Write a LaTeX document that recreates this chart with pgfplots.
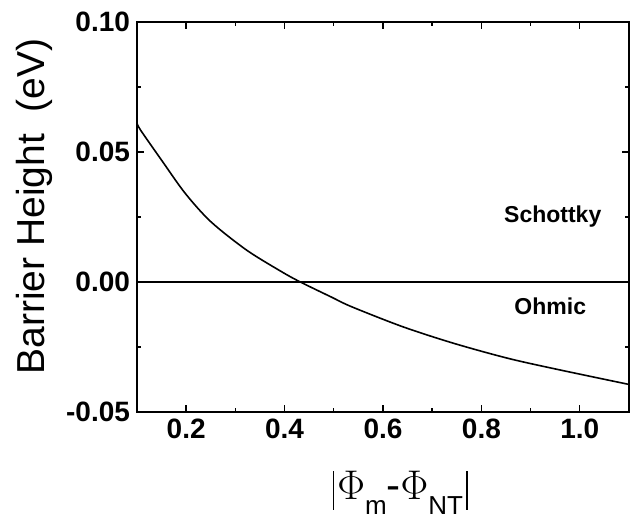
\documentclass[border=0pt]{standalone}
\usepackage{fontspec}
\setmainfont{Liberation Sans}
\usepackage{pgfplots}
\pgfplotsset{compat=1.18}

\newcommand{\absbar}{\rule[-5pt]{0.9pt}{19.5pt}}
\newcommand{\sub}[1]{\raisebox{-7.5pt}{\fontsize{13}{15}\selectfont #1}}

\begin{document}
\begin{tikzpicture}
    % fixed page: axis box sits at (0,0)
    \path[use as bounding box] (-68.5pt,-53.5pt) rectangle (248pt,206pt);
    \begin{axis}[
        at={(0,0)}, anchor=south west,
        scale only axis,
        width=246pt, height=195pt,
        xmin=0.1, xmax=1.1,
        ymin=-0.05, ymax=0.10,
        xtick={0.2,0.4,0.6,0.8,1.0},
        ytick={-0.05,0,0.05,0.10},
        minor x tick num=1,
        minor y tick num=1,
        tick align=inside,
        major tick length=3.5pt,
        minor tick length=2.2pt,
        axis line style={line width=0.9pt},
        every tick/.style={black, line width=0.7pt},
        /pgf/number format/assume math mode=true,
        xticklabel style={font=\fontsize{14}{16}\selectfont\bfseries,
            /pgf/number format/fixed, /pgf/number format/fixed zerofill,
            /pgf/number format/precision=1},
        yticklabel style={font=\fontsize{14}{16}\selectfont\bfseries,
            /pgf/number format/fixed, /pgf/number format/fixed zerofill,
            /pgf/number format/precision=2},
        scaled y ticks=false,
        xlabel={\absbar\kern1.5pt$\Phi$\sub{m}-$\Phi$\sub{NT}\kern1.5pt\absbar},
        xlabel style={font=\fontsize{21}{24}\selectfont,
            at={(axis description cs:0.535,0)}, anchor=base, yshift=-44pt},
        ylabel={Barrier Height\ \ (eV)},
        ylabel style={font=\fontsize{19.5}{23}\selectfont,
            at={(axis description cs:-0.187,0.527)}, anchor=base, rotate=0},
        clip=false,
    ]
        % zero line
        \addplot[black, line width=0.9pt] coordinates {(0.1,0) (1.1,0)};
        % barrier height curve
        \addplot[black, line width=0.8pt, smooth] coordinates {
            (0.100, 0.0612) (0.107, 0.0585) (0.152, 0.0463) (0.198, 0.0341)
            (0.250, 0.0232) (0.3225, 0.0123) (0.3935, 0.0040) (0.432, 0.0)
            (0.494, -0.0057) (0.536, -0.0095) (0.640, -0.0172) (0.744, -0.0236)
            (0.855, -0.0294) (0.959, -0.0338) (1.100, -0.0394)
        };
        \node[font=\fontsize{11.5}{14}\selectfont\bfseries, anchor=base]
            at (axis cs:0.945,0.0227) {Schottky};
        \node[font=\fontsize{11.5}{14}\selectfont\bfseries, anchor=base]
            at (axis cs:0.940,-0.0124) {Ohmic};
    \end{axis}
\end{tikzpicture}
\end{document}
